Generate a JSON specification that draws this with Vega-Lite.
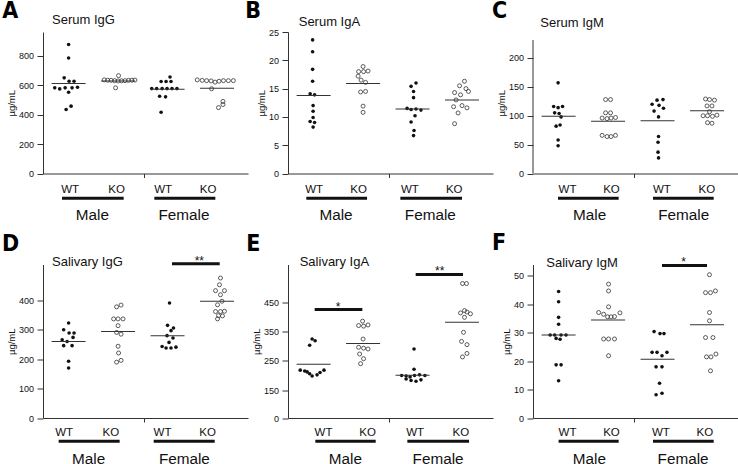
{
"$schema": "https://vega.github.io/schema/vega-lite/v6.json",
"padding": {"left": 2, "top": 0, "right": 0, "bottom": 0},
"config": {
 "view": {"stroke": null},
 "font": "Liberation Sans",
 "axis": {"grid": false, "labelFlush": false, "labelOverlap": false, "domainColor": "#333", "tickColor": "#333", "labelColor": "#111", "titleColor": "#111", "titleFontWeight": "normal", "labelFont": "Liberation Sans", "titleFont": "Liberation Sans"},
 "axisY": {"tickSize": 6, "labelPadding": 3.5, "labelFontSize": 9, "titleFontSize": 9.5, "titlePadding": 2, "labelOverlap": false},
 "axisX": {"tickSize": 4, "labelFontSize": 11.5, "labelPadding": 5.5, "labelOverlap": false}
},
"datasets": {
 "pts": [
  {"p":"A","g":"MW","v":875,"j":0},{"p":"A","g":"MW","v":784,"j":0},{"p":"A","g":"MW","v":649,"j":-0.09},{"p":"A","g":"MW","v":626,"j":0.01},{"p":"A","g":"MW","v":626,"j":0.11},{"p":"A","g":"MW","v":581,"j":-0.28},{"p":"A","g":"MW","v":574,"j":-0.18},{"p":"A","g":"MW","v":581,"j":-0.07},{"p":"A","g":"MW","v":581,"j":0.07},{"p":"A","g":"MW","v":585,"j":0.18},{"p":"A","g":"MW","v":551,"j":0},{"p":"A","g":"MW","v":457,"j":0.05},{"p":"A","g":"MW","v":434,"j":-0.05},
  {"p":"A","g":"MK","v":664,"j":0.01},{"p":"A","g":"MK","v":635,"j":-0.28},{"p":"A","g":"MK","v":633,"j":-0.21},{"p":"A","g":"MK","v":632,"j":-0.14},{"p":"A","g":"MK","v":630,"j":-0.07},{"p":"A","g":"MK","v":628,"j":0},{"p":"A","g":"MK","v":629,"j":0.07},{"p":"A","g":"MK","v":630,"j":0.14},{"p":"A","g":"MK","v":632,"j":0.21},{"p":"A","g":"MK","v":633,"j":0.28},{"p":"A","g":"MK","v":634,"j":0.34},{"p":"A","g":"MK","v":581,"j":-0.05},
  {"p":"A","g":"FW","v":655,"j":0.05},{"p":"A","g":"FW","v":624,"j":-0.13},{"p":"A","g":"FW","v":624,"j":-0.03},{"p":"A","g":"FW","v":624,"j":0.07},{"p":"A","g":"FW","v":576,"j":-0.32},{"p":"A","g":"FW","v":576,"j":-0.22},{"p":"A","g":"FW","v":576,"j":-0.11},{"p":"A","g":"FW","v":576,"j":-0.01},{"p":"A","g":"FW","v":576,"j":0.09},{"p":"A","g":"FW","v":576,"j":0.19},{"p":"A","g":"FW","v":524,"j":-0.16},{"p":"A","g":"FW","v":520,"j":-0.04},{"p":"A","g":"FW","v":416,"j":-0.13},
  {"p":"A","g":"FK","v":635,"j":-0.4},{"p":"A","g":"FK","v":632,"j":-0.3},{"p":"A","g":"FK","v":630,"j":-0.21},{"p":"A","g":"FK","v":628,"j":-0.12},{"p":"A","g":"FK","v":620,"j":-0.04},{"p":"A","g":"FK","v":626,"j":0.04},{"p":"A","g":"FK","v":630,"j":0.13},{"p":"A","g":"FK","v":630,"j":0.23},{"p":"A","g":"FK","v":630,"j":0.33},{"p":"A","g":"FK","v":575,"j":-0.11},{"p":"A","g":"FK","v":489,"j":0.12},{"p":"A","g":"FK","v":468,"j":0.12},{"p":"A","g":"FK","v":447,"j":0.03},

  {"p":"B","g":"MW","v":23.6,"j":-0.02},{"p":"B","g":"MW","v":21.5,"j":-0.02},{"p":"B","g":"MW","v":18.4,"j":-0.02},{"p":"B","g":"MW","v":16.3,"j":-0.02},{"p":"B","g":"MW","v":14.1,"j":-0.07},{"p":"B","g":"MW","v":13.9,"j":0.02},{"p":"B","g":"MW","v":12.0,"j":-0.01},{"p":"B","g":"MW","v":11.0,"j":-0.01},{"p":"B","g":"MW","v":9.9,"j":-0.01},{"p":"B","g":"MW","v":9.2,"j":-0.07},{"p":"B","g":"MW","v":9.0,"j":0.02},{"p":"B","g":"MW","v":8.2,"j":-0.01},
  {"p":"B","g":"MK","v":18.9,"j":0},{"p":"B","g":"MK","v":18.0,"j":-0.09},{"p":"B","g":"MK","v":18.0,"j":0.01},{"p":"B","g":"MK","v":18.1,"j":0.1},{"p":"B","g":"MK","v":17.2,"j":-0.1},{"p":"B","g":"MK","v":16.5,"j":-0.04},{"p":"B","g":"MK","v":16.1,"j":0.05},{"p":"B","g":"MK","v":14.4,"j":-0.05},{"p":"B","g":"MK","v":14.5,"j":0.05},{"p":"B","g":"MK","v":11.9,"j":0},{"p":"B","g":"MK","v":10.8,"j":0},
  {"p":"B","g":"FW","v":16.0,"j":0.07},{"p":"B","g":"FW","v":15.4,"j":-0.03},{"p":"B","g":"FW","v":14.5,"j":0.02},{"p":"B","g":"FW","v":13.4,"j":0.02},{"p":"B","g":"FW","v":11.5,"j":-0.11},{"p":"B","g":"FW","v":11.3,"j":-0.03},{"p":"B","g":"FW","v":11.4,"j":0.07},{"p":"B","g":"FW","v":11.2,"j":0.17},{"p":"B","g":"FW","v":10.2,"j":0.05},{"p":"B","g":"FW","v":9.1,"j":-0.03},{"p":"B","g":"FW","v":7.6,"j":0.03},{"p":"B","g":"FW","v":6.7,"j":0.02},
  {"p":"B","g":"FK","v":16.3,"j":0.05},{"p":"B","g":"FK","v":15.5,"j":-0.05},{"p":"B","g":"FK","v":15.0,"j":0.08},{"p":"B","g":"FK","v":14.5,"j":0.13},{"p":"B","g":"FK","v":14.3,"j":-0.15},{"p":"B","g":"FK","v":13.9,"j":-0.03},{"p":"B","g":"FK","v":13.0,"j":-0.12},{"p":"B","g":"FK","v":12.0,"j":0},{"p":"B","g":"FK","v":11.8,"j":-0.17},{"p":"B","g":"FK","v":11.6,"j":0.1},{"p":"B","g":"FK","v":10.7,"j":-0.08},{"p":"B","g":"FK","v":8.8,"j":-0.15},

  {"p":"C","g":"MW","v":157,"j":-0.01},{"p":"C","g":"MW","v":116,"j":-0.1},{"p":"C","g":"MW","v":116,"j":0.08},{"p":"C","g":"MW","v":114,"j":-0.01},{"p":"C","g":"MW","v":105,"j":-0.08},{"p":"C","g":"MW","v":104,"j":0.01},{"p":"C","g":"MW","v":98,"j":0.05},{"p":"C","g":"MW","v":84,"j":0.03},{"p":"C","g":"MW","v":82,"j":-0.05},{"p":"C","g":"MW","v":58,"j":-0.01},{"p":"C","g":"MW","v":48,"j":-0.01},
  {"p":"C","g":"MK","v":128,"j":-0.05},{"p":"C","g":"MK","v":128,"j":0.05},{"p":"C","g":"MK","v":105,"j":-0.05},{"p":"C","g":"MK","v":105,"j":0.05},{"p":"C","g":"MK","v":96,"j":-0.12},{"p":"C","g":"MK","v":95,"j":-0.02},{"p":"C","g":"MK","v":96,"j":0.06},{"p":"C","g":"MK","v":97,"j":0.15},{"p":"C","g":"MK","v":66,"j":-0.12},{"p":"C","g":"MK","v":64,"j":-0.02},{"p":"C","g":"MK","v":64,"j":0.06},{"p":"C","g":"MK","v":66,"j":0.15},
  {"p":"C","g":"FW","v":127,"j":-0.01},{"p":"C","g":"FW","v":128,"j":0.11},{"p":"C","g":"FW","v":120,"j":-0.11},{"p":"C","g":"FW","v":118,"j":0.03},{"p":"C","g":"FW","v":113,"j":0.12},{"p":"C","g":"FW","v":108,"j":-0.07},{"p":"C","g":"FW","v":98,"j":0.02},{"p":"C","g":"FW","v":64,"j":0.02},{"p":"C","g":"FW","v":54,"j":0.01},{"p":"C","g":"FW","v":37,"j":0.01},{"p":"C","g":"FW","v":27,"j":0.02},
  {"p":"C","g":"FK","v":129,"j":-0.03},{"p":"C","g":"FK","v":128,"j":0.05},{"p":"C","g":"FK","v":127,"j":0.15},{"p":"C","g":"FK","v":117,"j":0},{"p":"C","g":"FK","v":117,"j":0.1},{"p":"C","g":"FK","v":107,"j":0.05},{"p":"C","g":"FK","v":100,"j":-0.08},{"p":"C","g":"FK","v":100,"j":0.01},{"p":"C","g":"FK","v":99,"j":0.11},{"p":"C","g":"FK","v":101,"j":0.2},{"p":"C","g":"FK","v":88,"j":0.01},{"p":"C","g":"FK","v":87,"j":0.1},

  {"p":"D","g":"MW","v":323,"j":0},{"p":"D","g":"MW","v":300,"j":-0.1},{"p":"D","g":"MW","v":289,"j":0.01},{"p":"D","g":"MW","v":289,"j":0.11},{"p":"D","g":"MW","v":274,"j":0.09},{"p":"D","g":"MW","v":266,"j":-0.13},{"p":"D","g":"MW","v":260,"j":-0.03},{"p":"D","g":"MW","v":246,"j":-0.1},{"p":"D","g":"MW","v":246,"j":0.07},{"p":"D","g":"MW","v":193,"j":0},{"p":"D","g":"MW","v":170,"j":0},
  {"p":"D","g":"MK","v":378,"j":-0.03},{"p":"D","g":"MK","v":384,"j":0.06},{"p":"D","g":"MK","v":337,"j":-0.09},{"p":"D","g":"MK","v":337,"j":0},{"p":"D","g":"MK","v":337,"j":0.1},{"p":"D","g":"MK","v":314,"j":0},{"p":"D","g":"MK","v":291,"j":-0.03},{"p":"D","g":"MK","v":285,"j":0.06},{"p":"D","g":"MK","v":244,"j":0},{"p":"D","g":"MK","v":221,"j":0.01},{"p":"D","g":"MK","v":190,"j":-0.03},{"p":"D","g":"MK","v":196,"j":0.06},
  {"p":"D","g":"FW","v":391,"j":0.04},{"p":"D","g":"FW","v":315,"j":0},{"p":"D","g":"FW","v":306,"j":0.12},{"p":"D","g":"FW","v":297,"j":0.07},{"p":"D","g":"FW","v":280,"j":-0.01},{"p":"D","g":"FW","v":272,"j":0.11},{"p":"D","g":"FW","v":257,"j":0.03},{"p":"D","g":"FW","v":243,"j":-0.11},{"p":"D","g":"FW","v":238,"j":-0.03},{"p":"D","g":"FW","v":238,"j":0.07},{"p":"D","g":"FW","v":241,"j":0.17},
  {"p":"D","g":"FK","v":476,"j":0.07},{"p":"D","g":"FK","v":453,"j":0.05},{"p":"D","g":"FK","v":433,"j":-0.03},{"p":"D","g":"FK","v":433,"j":0.15},{"p":"D","g":"FK","v":419,"j":0.07},{"p":"D","g":"FK","v":397,"j":0.1},{"p":"D","g":"FK","v":385,"j":0.01},{"p":"D","g":"FK","v":362,"j":-0.03},{"p":"D","g":"FK","v":362,"j":0.07},{"p":"D","g":"FK","v":363,"j":0.15},{"p":"D","g":"FK","v":348,"j":0.03},{"p":"D","g":"FK","v":347,"j":0.11},{"p":"D","g":"FK","v":337,"j":0.01},

  {"p":"E","g":"MW","v":324,"j":-0.03},{"p":"E","g":"MW","v":318,"j":0.03},{"p":"E","g":"MW","v":303,"j":-0.08},{"p":"E","g":"MW","v":218,"j":-0.27},{"p":"E","g":"MW","v":215,"j":-0.18},{"p":"E","g":"MW","v":212,"j":-0.13},{"p":"E","g":"MW","v":206,"j":-0.08},{"p":"E","g":"MW","v":198,"j":-0.03},{"p":"E","g":"MW","v":202,"j":0.07},{"p":"E","g":"MW","v":210,"j":0.13},{"p":"E","g":"MW","v":218,"j":0.21},
  {"p":"E","g":"MK","v":385,"j":-0.01},{"p":"E","g":"MK","v":370,"j":-0.09},{"p":"E","g":"MK","v":368,"j":0.01},{"p":"E","g":"MK","v":372,"j":0.1},{"p":"E","g":"MK","v":324,"j":0},{"p":"E","g":"MK","v":296,"j":-0.09},{"p":"E","g":"MK","v":293,"j":0.01},{"p":"E","g":"MK","v":290,"j":0.1},{"p":"E","g":"MK","v":273,"j":-0.07},{"p":"E","g":"MK","v":257,"j":0.01},{"p":"E","g":"MK","v":240,"j":-0.05},
  {"p":"E","g":"FW","v":290,"j":0.03},{"p":"E","g":"FW","v":221,"j":0.03},{"p":"E","g":"FW","v":200,"j":-0.22},{"p":"E","g":"FW","v":198,"j":-0.13},{"p":"E","g":"FW","v":195,"j":-0.05},{"p":"E","g":"FW","v":200,"j":0.04},{"p":"E","g":"FW","v":202,"j":0.14},{"p":"E","g":"FW","v":200,"j":0.25},{"p":"E","g":"FW","v":188,"j":-0.13},{"p":"E","g":"FW","v":183,"j":-0.03},{"p":"E","g":"FW","v":180,"j":0.07},{"p":"E","g":"FW","v":185,"j":0.17},
  {"p":"E","g":"FK","v":513,"j":0.01},{"p":"E","g":"FK","v":513,"j":0.09},{"p":"E","g":"FK","v":421,"j":0.05},{"p":"E","g":"FK","v":413,"j":-0.03},{"p":"E","g":"FK","v":416,"j":0.1},{"p":"E","g":"FK","v":410,"j":0.17},{"p":"E","g":"FK","v":398,"j":0.05},{"p":"E","g":"FK","v":347,"j":0.03},{"p":"E","g":"FK","v":316,"j":-0.01},{"p":"E","g":"FK","v":305,"j":0.1},{"p":"E","g":"FK","v":275,"j":0.1},{"p":"E","g":"FK","v":263,"j":0.01},

  {"p":"F","g":"MW","v":44.5,"j":0},{"p":"F","g":"MW","v":40.9,"j":0},{"p":"F","g":"MW","v":35.4,"j":0},{"p":"F","g":"MW","v":33.0,"j":0},{"p":"F","g":"MW","v":29.2,"j":-0.17},{"p":"F","g":"MW","v":29.2,"j":-0.08},{"p":"F","g":"MW","v":29.2,"j":0.05},{"p":"F","g":"MW","v":29.2,"j":0.15},{"p":"F","g":"MW","v":28.0,"j":-0.05},{"p":"F","g":"MW","v":27.7,"j":0.03},{"p":"F","g":"MW","v":18.7,"j":-0.05},{"p":"F","g":"MW","v":18.7,"j":0.05},{"p":"F","g":"MW","v":13.1,"j":0},
  {"p":"F","g":"MK","v":47.1,"j":0.01},{"p":"F","g":"MK","v":44.7,"j":0.01},{"p":"F","g":"MK","v":39.1,"j":0.01},{"p":"F","g":"MK","v":37.1,"j":-0.19},{"p":"F","g":"MK","v":36.5,"j":-0.09},{"p":"F","g":"MK","v":35.6,"j":-0.01},{"p":"F","g":"MK","v":35.6,"j":0.06},{"p":"F","g":"MK","v":35.7,"j":0.13},{"p":"F","g":"MK","v":37.0,"j":0.24},{"p":"F","g":"MK","v":27.8,"j":-0.09},{"p":"F","g":"MK","v":27.8,"j":0.01},{"p":"F","g":"MK","v":27.8,"j":0.13},{"p":"F","g":"MK","v":21.9,"j":0.01},
  {"p":"F","g":"FW","v":30.4,"j":-0.07},{"p":"F","g":"FW","v":29.7,"j":0.05},{"p":"F","g":"FW","v":29.7,"j":0.13},{"p":"F","g":"FW","v":23.1,"j":-0.11},{"p":"F","g":"FW","v":23.1,"j":-0.01},{"p":"F","g":"FW","v":23.1,"j":0.19},{"p":"F","g":"FW","v":21.9,"j":0.09},{"p":"F","g":"FW","v":18.0,"j":-0.03},{"p":"F","g":"FW","v":18.0,"j":0.09},{"p":"F","g":"FW","v":12.2,"j":0.04},{"p":"F","g":"FW","v":8.2,"j":-0.03},{"p":"F","g":"FW","v":8.7,"j":0.09},
  {"p":"F","g":"FK","v":50.4,"j":0.05},{"p":"F","g":"FK","v":44.1,"j":-0.03},{"p":"F","g":"FK","v":44.1,"j":0.07},{"p":"F","g":"FK","v":44.7,"j":0.17},{"p":"F","g":"FK","v":37.1,"j":0.05},{"p":"F","g":"FK","v":34.2,"j":0.05},{"p":"F","g":"FK","v":28.3,"j":-0.03},{"p":"F","g":"FK","v":28.3,"j":0.12},{"p":"F","g":"FK","v":21.5,"j":-0.01},{"p":"F","g":"FK","v":21.5,"j":0.08},{"p":"F","g":"FK","v":22.5,"j":0.18},{"p":"F","g":"FK","v":16.6,"j":0.07}
 ],
 "means": [
  {"p":"A","g":"MW","v":610},{"p":"A","g":"MK","v":628},{"p":"A","g":"FW","v":572},{"p":"A","g":"FK","v":578},
  {"p":"B","g":"MW","v":13.8},{"p":"B","g":"MK","v":15.9},{"p":"B","g":"FW","v":11.4},{"p":"B","g":"FK","v":13.0},
  {"p":"C","g":"MW","v":99},{"p":"C","g":"MK","v":90.5},{"p":"C","g":"FW","v":91.5},{"p":"C","g":"FK","v":108.5},
  {"p":"D","g":"MW","v":260},{"p":"D","g":"MK","v":294},{"p":"D","g":"FW","v":280},{"p":"D","g":"FK","v":397},
  {"p":"E","g":"MW","v":238},{"p":"E","g":"MK","v":309},{"p":"E","g":"FW","v":201},{"p":"E","g":"FK","v":381},
  {"p":"F","g":"MW","v":29.2},{"p":"F","g":"MK","v":34.5},{"p":"F","g":"FW","v":20.7},{"p":"F","g":"FK","v":32.8}
 ]
},
"columns": 3,
"spacing": {"row": 90.5, "column": 40},
"bounds": "flush",
"concat": [
 {
  "width": 205, "height": 141.5,
  "resolve": {"scale": {"x": "independent"}, "axis": {"y": "independent"}},
  "layer": [
   {"data": {"name": "pts"},
    "layer": [
     {"transform": [{"filter": "datum.p=='A' && indexof(datum.g,'W')>=0"}],
      "mark": {"type": "circle", "size": 13, "color": "#111", "opacity": 1},
      "encoding": {"x": {"field": "g", "type": "nominal", "scale": {"type": "band", "domain": ["MW","MK","FW","FK"], "paddingInner": 0, "paddingOuter": 0.0718, "align": 0.122}, "axis": null},
       "xOffset": {"field": "j", "type": "quantitative", "scale": {"domain": [-0.5, 0.5], "range": [0, 49.47]}},
       "y": {"field": "v", "type": "quantitative", "scale": {"domain": [0, 960], "nice": false, "zero": false}, "axis": {"title": "µg/mL", "values": [0,200,400,600,800], "labelOverlap": false}}}},
     {"transform": [{"filter": "datum.p=='A' && indexof(datum.g,'K')>=0"}],
      "mark": {"type": "point", "shape": "circle", "size": 16, "filled": false, "stroke": "#333", "strokeWidth": 0.8, "opacity": 1},
      "encoding": {"x": {"field": "g", "type": "nominal"}, "xOffset": {"field": "j", "type": "quantitative"}, "y": {"field": "v", "type": "quantitative", "axis": {"title": "µg/mL", "values": [0,200,400,600,800], "labelOverlap": false}}}},
     {"data": {"name": "means"}, "transform": [{"filter": "datum.p=='A'"}],
      "mark": {"type": "tick", "orient": "horizontal", "size": 34, "thickness": 1, "color": "#333", "opacity": 1},
      "encoding": {"x": {"field": "g", "type": "nominal"}, "y": {"field": "v", "type": "quantitative", "axis": {"title": "µg/mL", "values": [0,200,400,600,800], "labelOverlap": false}}}}
    ]},
   {"data": {"values": [{}]},
    "layer": [
     {"mark": {"type": "rule", "strokeWidth": 3, "color": "#111"},
      "encoding": {"x": {"datum": 0.867, "type": "quantitative", "scale": {"domain": [0.4825, 4.626], "nice": false, "zero": false},
        "axis": {"orient": "bottom", "title": null, "labelOverlap": false, "values": [1.02, 1.96, 2.53, 2.9, 3.81], "labelExpr": "datum.value < 1.5 ? 'WT' : datum.value < 2.4 ? 'KO' : datum.value < 2.6 ? '' : datum.value < 3.5 ? 'WT' : 'KO'", "tickOpacity": {"condition": {"test": "datum.value > 2.5 && datum.value < 2.56", "value": 1}, "value": 0}}},
       "x2": {"datum": 2.113}, "y": {"datum": -168.3, "type": "quantitative", "axis": null}}},
     {"mark": {"type": "rule", "strokeWidth": 3, "color": "#111"},
      "encoding": {"x": {"datum": 2.733, "type": "quantitative"}, "x2": {"datum": 3.966}, "y": {"datum": -168.3, "type": "quantitative"}}},
     {"mark": {"type": "text", "fontSize": 15.3, "align": "center", "baseline": "alphabetic", "color": "#111"},
      "encoding": {"x": {"datum": 1.48, "type": "quantitative"}, "y": {"datum": -315.5, "type": "quantitative"}, "text": {"value": "Male"}}},
     {"mark": {"type": "text", "fontSize": 15.3, "align": "center", "baseline": "alphabetic", "color": "#111"},
      "encoding": {"x": {"datum": 3.33, "type": "quantitative"}, "y": {"datum": -315.5, "type": "quantitative"}, "text": {"value": "Female"}}},
     {"mark": {"type": "text", "fontSize": 23, "fontWeight": "bold", "font": "Liberation Sans Narrow, Arial Narrow, DejaVu Sans Condensed, Liberation Sans", "align": "left", "baseline": "alphabetic", "color": "#000"},
      "encoding": {"x": {"datum": -0.34, "type": "quantitative"}, "y": {"datum": 1052.9, "type": "quantitative"}, "text": {"value": "A"}}},
     {"mark": {"type": "text", "fontSize": 13, "align": "left", "baseline": "alphabetic", "color": "#111"},
      "encoding": {"x": {"datum": 0.664, "type": "quantitative"}, "y": {"datum": 1010.9, "type": "quantitative"}, "text": {"value": "Serum IgG"}}}
    ]}
  ]
 },
 {
  "width": 205, "height": 141.5,
  "resolve": {"scale": {"x": "independent"}, "axis": {"y": "independent"}},
  "layer": [
   {"data": {"name": "pts"},
    "layer": [
     {"transform": [{"filter": "datum.p=='B' && indexof(datum.g,'W')>=0"}],
      "mark": {"type": "circle", "size": 13, "color": "#111", "opacity": 1},
      "encoding": {"x": {"field": "g", "type": "nominal", "scale": {"type": "band", "domain": ["MW","MK","FW","FK"], "paddingInner": 0, "paddingOuter": 0.0718, "align": 0.122}, "axis": null},
       "xOffset": {"field": "j", "type": "quantitative", "scale": {"domain": [-0.5, 0.5], "range": [0, 49.47]}},
       "y": {"field": "v", "type": "quantitative", "scale": {"domain": [0, 25], "nice": false, "zero": false}, "axis": {"title": "µg/mL", "values": [0,5,10,15,20,25], "labelOverlap": false}}}},
     {"transform": [{"filter": "datum.p=='B' && indexof(datum.g,'K')>=0"}],
      "mark": {"type": "point", "shape": "circle", "size": 16, "filled": false, "stroke": "#333", "strokeWidth": 0.8, "opacity": 1},
      "encoding": {"x": {"field": "g", "type": "nominal"}, "xOffset": {"field": "j", "type": "quantitative"}, "y": {"field": "v", "type": "quantitative", "axis": {"title": "µg/mL", "values": [0,5,10,15,20,25], "labelOverlap": false}}}},
     {"data": {"name": "means"}, "transform": [{"filter": "datum.p=='B'"}],
      "mark": {"type": "tick", "orient": "horizontal", "size": 34, "thickness": 1, "color": "#333", "opacity": 1},
      "encoding": {"x": {"field": "g", "type": "nominal"}, "y": {"field": "v", "type": "quantitative", "axis": {"title": "µg/mL", "values": [0,5,10,15,20,25], "labelOverlap": false}}}}
    ]},
   {"data": {"values": [{}]},
    "layer": [
     {"mark": {"type": "rule", "strokeWidth": 3, "color": "#111"},
      "encoding": {"x": {"datum": 0.853, "type": "quantitative", "scale": {"domain": [0.4825, 4.626], "nice": false, "zero": false},
        "axis": {"orient": "bottom", "title": null, "labelOverlap": false, "values": [1.0, 1.898, 2.53, 2.935, 3.832], "labelExpr": "datum.value < 1.5 ? 'WT' : datum.value < 2.4 ? 'KO' : datum.value < 2.6 ? '' : datum.value < 3.5 ? 'WT' : 'KO'", "tickOpacity": {"condition": {"test": "datum.value > 2.5 && datum.value < 2.56", "value": 1}, "value": 0}}},
       "x2": {"datum": 2.08}, "y": {"datum": -4.38, "type": "quantitative", "axis": null}}},
     {"mark": {"type": "rule", "strokeWidth": 3, "color": "#111"},
      "encoding": {"x": {"datum": 2.753, "type": "quantitative"}, "x2": {"datum": 4.0}, "y": {"datum": -4.38, "type": "quantitative"}}},
     {"mark": {"type": "text", "fontSize": 15.3, "align": "center", "baseline": "alphabetic", "color": "#111"},
      "encoding": {"x": {"datum": 1.453, "type": "quantitative"}, "y": {"datum": -8.22, "type": "quantitative"}, "text": {"value": "Male"}}},
     {"mark": {"type": "text", "fontSize": 15.3, "align": "center", "baseline": "alphabetic", "color": "#111"},
      "encoding": {"x": {"datum": 3.36, "type": "quantitative"}, "y": {"datum": -8.22, "type": "quantitative"}, "text": {"value": "Female"}}},
     {"mark": {"type": "text", "fontSize": 23, "fontWeight": "bold", "font": "Liberation Sans Narrow, Arial Narrow, DejaVu Sans Condensed, Liberation Sans", "align": "left", "baseline": "alphabetic", "color": "#000"},
      "encoding": {"x": {"datum": -0.38, "type": "quantitative"}, "y": {"datum": 27.42, "type": "quantitative"}, "text": {"value": "B"}}},
     {"mark": {"type": "text", "fontSize": 13, "align": "left", "baseline": "alphabetic", "color": "#111"},
      "encoding": {"x": {"datum": 0.699, "type": "quantitative"}, "y": {"datum": 26.11, "type": "quantitative"}, "text": {"value": "Serum IgA"}}}
    ]}
  ]
 },
 {
  "width": 205, "height": 141.5,
  "resolve": {"scale": {"x": "independent"}, "axis": {"y": "independent"}},
  "layer": [
   {"data": {"name": "pts"},
    "layer": [
     {"transform": [{"filter": "datum.p=='C' && indexof(datum.g,'W')>=0"}],
      "mark": {"type": "circle", "size": 13, "color": "#111", "opacity": 1},
      "encoding": {"x": {"field": "g", "type": "nominal", "scale": {"type": "band", "domain": ["MW","MK","FW","FK"], "paddingInner": 0, "paddingOuter": 0.0718, "align": 0.122}, "axis": null},
       "xOffset": {"field": "j", "type": "quantitative", "scale": {"domain": [-0.5, 0.5], "range": [0, 49.47]}},
       "y": {"field": "v", "type": "quantitative", "scale": {"domain": [0, 245], "nice": false, "zero": false}, "axis": {"title": "µg/mL", "values": [0,50,100,150,200], "domain": false, "labelOverlap": false}}}},
     {"transform": [{"filter": "datum.p=='C' && indexof(datum.g,'K')>=0"}],
      "mark": {"type": "point", "shape": "circle", "size": 16, "filled": false, "stroke": "#333", "strokeWidth": 0.8, "opacity": 1},
      "encoding": {"x": {"field": "g", "type": "nominal"}, "xOffset": {"field": "j", "type": "quantitative"}, "y": {"field": "v", "type": "quantitative", "axis": {"title": "µg/mL", "values": [0,50,100,150,200], "domain": false, "labelOverlap": false}}}},
     {"data": {"name": "means"}, "transform": [{"filter": "datum.p=='C'"}],
      "mark": {"type": "tick", "orient": "horizontal", "size": 34, "thickness": 1, "color": "#333", "opacity": 1},
      "encoding": {"x": {"field": "g", "type": "nominal"}, "y": {"field": "v", "type": "quantitative", "axis": {"title": "µg/mL", "values": [0,50,100,150,200], "domain": false, "labelOverlap": false}}}}
    ]},
   {"data": {"values": [{}]},
    "layer": [
     {"mark": {"type": "rule", "strokeWidth": 3, "color": "#111"},
      "encoding": {"x": {"datum": 0.988, "type": "quantitative", "scale": {"domain": [0.4825, 4.626], "nice": false, "zero": false},
        "axis": {"orient": "bottom", "title": null, "labelOverlap": false, "values": [1.17, 2.059, 2.53, 3.077, 3.987], "labelExpr": "datum.value < 1.5 ? 'WT' : datum.value < 2.4 ? 'KO' : datum.value < 2.6 ? '' : datum.value < 3.5 ? 'WT' : 'KO'", "tickOpacity": {"condition": {"test": "datum.value > 2.5 && datum.value < 2.56", "value": 1}, "value": 0}}},
       "x2": {"datum": 2.214}, "y": {"datum": -42.94, "type": "quantitative", "axis": null}}},
     {"mark": {"type": "rule", "strokeWidth": 3, "color": "#111"},
      "encoding": {"x": {"datum": 2.908, "type": "quantitative"}, "x2": {"datum": 4.135}, "y": {"datum": -42.94, "type": "quantitative"}}},
     {"mark": {"type": "rule", "strokeWidth": 1, "color": "#333"},
      "encoding": {"x": {"datum": 0.4825, "type": "quantitative"}, "y": {"datum": 0, "type": "quantitative"}, "y2": {"datum": 231}}},
     {"mark": {"type": "text", "fontSize": 15.3, "align": "center", "baseline": "alphabetic", "color": "#111"},
      "encoding": {"x": {"datum": 1.628, "type": "quantitative"}, "y": {"datum": -80.51, "type": "quantitative"}, "text": {"value": "Male"}}},
     {"mark": {"type": "text", "fontSize": 15.3, "align": "center", "baseline": "alphabetic", "color": "#111"},
      "encoding": {"x": {"datum": 3.528, "type": "quantitative"}, "y": {"datum": -80.51, "type": "quantitative"}, "text": {"value": "Female"}}},
     {"mark": {"type": "text", "fontSize": 23, "fontWeight": "bold", "font": "Liberation Sans Narrow, Arial Narrow, DejaVu Sans Condensed, Liberation Sans", "align": "left", "baseline": "alphabetic", "color": "#000"},
      "encoding": {"x": {"datum": -0.345, "type": "quantitative"}, "y": {"datum": 268.72, "type": "quantitative"}, "text": {"value": "C"}}},
     {"mark": {"type": "text", "fontSize": 13, "align": "left", "baseline": "alphabetic", "color": "#111"},
      "encoding": {"x": {"datum": 0.63, "type": "quantitative"}, "y": {"datum": 253.14, "type": "quantitative"}, "text": {"value": "Serum IgM"}}}
    ]}
  ]
 },
 {
  "width": 205, "height": 153.5,
  "resolve": {"scale": {"x": "independent"}, "axis": {"y": "independent"}},
  "layer": [
   {"data": {"name": "pts"},
    "layer": [
     {"transform": [{"filter": "datum.p=='D' && indexof(datum.g,'W')>=0"}],
      "mark": {"type": "circle", "size": 13, "color": "#111", "opacity": 1},
      "encoding": {"x": {"field": "g", "type": "nominal", "scale": {"type": "band", "domain": ["MW","MK","FW","FK"], "paddingInner": 0, "paddingOuter": 0.0718, "align": 0.122}, "axis": null},
       "xOffset": {"field": "j", "type": "quantitative", "scale": {"domain": [-0.5, 0.5], "range": [0, 49.47]}},
       "y": {"field": "v", "type": "quantitative", "scale": {"domain": [0, 522], "nice": false, "zero": false}, "axis": {"title": "µg/mL", "values": [0,100,200,300,400], "labelOverlap": false}}}},
     {"transform": [{"filter": "datum.p=='D' && indexof(datum.g,'K')>=0"}],
      "mark": {"type": "point", "shape": "circle", "size": 16, "filled": false, "stroke": "#333", "strokeWidth": 0.8, "opacity": 1},
      "encoding": {"x": {"field": "g", "type": "nominal"}, "xOffset": {"field": "j", "type": "quantitative"}, "y": {"field": "v", "type": "quantitative", "axis": {"title": "µg/mL", "values": [0,100,200,300,400], "labelOverlap": false}}}},
     {"data": {"name": "means"}, "transform": [{"filter": "datum.p=='D'"}],
      "mark": {"type": "tick", "orient": "horizontal", "size": 34, "thickness": 1, "color": "#333", "opacity": 1},
      "encoding": {"x": {"field": "g", "type": "nominal"}, "y": {"field": "v", "type": "quantitative", "axis": {"title": "µg/mL", "values": [0,100,200,300,400], "labelOverlap": false}}}}
    ]},
   {"data": {"values": [{}]},
    "layer": [
     {"mark": {"type": "rule", "strokeWidth": 3, "color": "#111"},
      "encoding": {"x": {"datum": 0.799, "type": "quantitative", "scale": {"domain": [0.4825, 4.626], "nice": false, "zero": false},
        "axis": {"orient": "bottom", "title": null, "labelOverlap": false, "labelPadding": 4.2, "values": [0.9, 1.844, 2.53, 2.888, 3.798], "labelExpr": "datum.value < 1.5 ? 'WT' : datum.value < 2.4 ? 'KO' : datum.value < 2.6 ? '' : datum.value < 3.5 ? 'WT' : 'KO'", "tickOpacity": {"condition": {"test": "datum.value > 2.5 && datum.value < 2.56", "value": 1}, "value": 0}}},
       "x2": {"datum": 2.032}, "y": {"datum": -78.9, "type": "quantitative", "axis": null}}},
     {"mark": {"type": "rule", "strokeWidth": 3, "color": "#111"},
      "encoding": {"x": {"datum": 2.72, "type": "quantitative"}, "x2": {"datum": 3.953}, "y": {"datum": -78.9, "type": "quantitative"}}},
     {"mark": {"type": "rule", "strokeWidth": 3, "color": "#111"},
      "encoding": {"x": {"datum": 3.09, "type": "quantitative"}, "x2": {"datum": 4.054}, "y": {"datum": 524.4, "type": "quantitative"}}},
     {"mark": {"type": "text", "fontSize": 12, "align": "center", "baseline": "alphabetic", "color": "#111"},
      "encoding": {"x": {"datum": 3.643, "type": "quantitative"}, "y": {"datum": 520, "type": "quantitative"}, "text": {"value": "**"}}},
     {"mark": {"type": "text", "fontSize": 15.3, "align": "center", "baseline": "alphabetic", "color": "#111"},
      "encoding": {"x": {"datum": 1.406, "type": "quantitative"}, "y": {"datum": -155.75, "type": "quantitative"}, "text": {"value": "Male"}}},
     {"mark": {"type": "text", "fontSize": 15.3, "align": "center", "baseline": "alphabetic", "color": "#111"},
      "encoding": {"x": {"datum": 3.34, "type": "quantitative"}, "y": {"datum": -155.75, "type": "quantitative"}, "text": {"value": "Female"}}},
     {"mark": {"type": "text", "fontSize": 23, "fontWeight": "bold", "font": "Liberation Sans Narrow, Arial Narrow, DejaVu Sans Condensed, Liberation Sans", "align": "left", "baseline": "alphabetic", "color": "#000"},
      "encoding": {"x": {"datum": -0.345, "type": "quantitative"}, "y": {"datum": 569.6, "type": "quantitative"}, "text": {"value": "D"}}},
     {"mark": {"type": "text", "fontSize": 13, "align": "left", "baseline": "alphabetic", "color": "#111"},
      "encoding": {"x": {"datum": 0.664, "type": "quantitative"}, "y": {"datum": 515.2, "type": "quantitative"}, "text": {"value": "Salivary IgG"}}}
    ]}
  ]
 },
 {
  "width": 205, "height": 153.5,
  "resolve": {"scale": {"x": "independent"}, "axis": {"y": "independent"}},
  "layer": [
   {"data": {"name": "pts"},
    "layer": [
     {"transform": [{"filter": "datum.p=='E' && indexof(datum.g,'W')>=0"}],
      "mark": {"type": "circle", "size": 13, "color": "#111", "opacity": 1},
      "encoding": {"x": {"field": "g", "type": "nominal", "scale": {"type": "band", "domain": ["MW","MK","FW","FK"], "paddingInner": 0, "paddingOuter": 0.0718, "align": 0.122}, "axis": null},
       "xOffset": {"field": "j", "type": "quantitative", "scale": {"domain": [-0.5, 0.5], "range": [0, 49.47]}},
       "y": {"field": "v", "type": "quantitative", "scale": {"domain": [55, 578], "nice": false, "zero": false}, "axis": {"title": "µg/mL", "values": [55,150,250,350,450], "labelExpr": "datum.value < 100 ? '0' : datum.label", "labelOverlap": false}}}},
     {"transform": [{"filter": "datum.p=='E' && indexof(datum.g,'K')>=0"}],
      "mark": {"type": "point", "shape": "circle", "size": 16, "filled": false, "stroke": "#333", "strokeWidth": 0.8, "opacity": 1},
      "encoding": {"x": {"field": "g", "type": "nominal"}, "xOffset": {"field": "j", "type": "quantitative"}, "y": {"field": "v", "type": "quantitative", "axis": {"title": "µg/mL", "values": [55,150,250,350,450], "labelExpr": "datum.value < 100 ? '0' : datum.label", "labelOverlap": false}}}},
     {"data": {"name": "means"}, "transform": [{"filter": "datum.p=='E'"}],
      "mark": {"type": "tick", "orient": "horizontal", "size": 34, "thickness": 1, "color": "#333", "opacity": 1},
      "encoding": {"x": {"field": "g", "type": "nominal"}, "y": {"field": "v", "type": "quantitative", "axis": {"title": "µg/mL", "values": [55,150,250,350,450], "labelExpr": "datum.value < 100 ? '0' : datum.label", "labelOverlap": false}}}}
    ]},
   {"data": {"values": [{}]},
    "layer": [
     {"mark": {"type": "rule", "strokeWidth": 3, "color": "#111"},
      "encoding": {"x": {"datum": 1.035, "type": "quantitative", "scale": {"domain": [0.4825, 4.626], "nice": false, "zero": false},
        "axis": {"orient": "bottom", "title": null, "labelOverlap": false, "labelPadding": 4.2, "values": [1.19, 2.08, 2.53, 3.043, 3.966], "labelExpr": "datum.value < 1.5 ? 'WT' : datum.value < 2.4 ? 'KO' : datum.value < 2.6 ? '' : datum.value < 3.5 ? 'WT' : 'KO'", "tickOpacity": {"condition": {"test": "datum.value > 2.5 && datum.value < 2.56", "value": 1}, "value": 0}}},
       "x2": {"datum": 2.255}, "y": {"datum": -24.05, "type": "quantitative", "axis": null}}},
     {"mark": {"type": "rule", "strokeWidth": 3, "color": "#111"},
      "encoding": {"x": {"datum": 2.895, "type": "quantitative"}, "x2": {"datum": 4.142}, "y": {"datum": -24.05, "type": "quantitative"}}},
     {"mark": {"type": "rule", "strokeWidth": 3, "color": "#111"},
      "encoding": {"x": {"datum": 1.022, "type": "quantitative"}, "x2": {"datum": 1.985}, "y": {"datum": 424.7, "type": "quantitative"}}},
     {"mark": {"type": "rule", "strokeWidth": 3, "color": "#111"},
      "encoding": {"x": {"datum": 3.063, "type": "quantitative"}, "x2": {"datum": 4.02}, "y": {"datum": 543.9, "type": "quantitative"}}},
     {"mark": {"type": "text", "fontSize": 12, "align": "center", "baseline": "alphabetic", "color": "#111"},
      "encoding": {"x": {"datum": 1.493, "type": "quantitative"}, "y": {"datum": 420.2, "type": "quantitative"}, "text": {"value": "*"}}},
     {"mark": {"type": "text", "fontSize": 12, "align": "center", "baseline": "alphabetic", "color": "#111"},
      "encoding": {"x": {"datum": 3.548, "type": "quantitative"}, "y": {"datum": 541.9, "type": "quantitative"}, "text": {"value": "**"}}},
     {"mark": {"type": "text", "fontSize": 15.3, "align": "center", "baseline": "alphabetic", "color": "#111"},
      "encoding": {"x": {"datum": 1.641, "type": "quantitative"}, "y": {"datum": -101.05, "type": "quantitative"}, "text": {"value": "Male"}}},
     {"mark": {"type": "text", "fontSize": 15.3, "align": "center", "baseline": "alphabetic", "color": "#111"},
      "encoding": {"x": {"datum": 3.515, "type": "quantitative"}, "y": {"datum": -101.05, "type": "quantitative"}, "text": {"value": "Female"}}},
     {"mark": {"type": "text", "fontSize": 23, "fontWeight": "bold", "font": "Liberation Sans Narrow, Arial Narrow, DejaVu Sans Condensed, Liberation Sans", "align": "left", "baseline": "alphabetic", "color": "#000"},
      "encoding": {"x": {"datum": -0.36, "type": "quantitative"}, "y": {"datum": 625.7, "type": "quantitative"}, "text": {"value": "E"}}},
     {"mark": {"type": "text", "fontSize": 13, "align": "left", "baseline": "alphabetic", "color": "#111"},
      "encoding": {"x": {"datum": 0.719, "type": "quantitative"}, "y": {"datum": 571.2, "type": "quantitative"}, "text": {"value": "Salivary IgA"}}}
    ]}
  ]
 },
 {
  "width": 205, "height": 153.5,
  "resolve": {"scale": {"x": "independent"}, "axis": {"y": "independent"}},
  "layer": [
   {"data": {"name": "pts"},
    "layer": [
     {"transform": [{"filter": "datum.p=='F' && indexof(datum.g,'W')>=0"}],
      "mark": {"type": "circle", "size": 13, "color": "#111", "opacity": 1},
      "encoding": {"x": {"field": "g", "type": "nominal", "scale": {"type": "band", "domain": ["MW","MK","FW","FK"], "paddingInner": 0, "paddingOuter": 0.0718, "align": 0.122}, "axis": null},
       "xOffset": {"field": "j", "type": "quantitative", "scale": {"domain": [-0.5, 0.5], "range": [0, 49.47]}},
       "y": {"field": "v", "type": "quantitative", "scale": {"domain": [0, 54], "nice": false, "zero": false}, "axis": {"title": "µg/mL", "values": [0,10,20,30,40,50], "labelOverlap": false}}}},
     {"transform": [{"filter": "datum.p=='F' && indexof(datum.g,'K')>=0"}],
      "mark": {"type": "point", "shape": "circle", "size": 16, "filled": false, "stroke": "#333", "strokeWidth": 0.8, "opacity": 1},
      "encoding": {"x": {"field": "g", "type": "nominal"}, "xOffset": {"field": "j", "type": "quantitative"}, "y": {"field": "v", "type": "quantitative", "axis": {"title": "µg/mL", "values": [0,10,20,30,40,50], "labelOverlap": false}}}},
     {"data": {"name": "means"}, "transform": [{"filter": "datum.p=='F'"}],
      "mark": {"type": "tick", "orient": "horizontal", "size": 34, "thickness": 1, "color": "#333", "opacity": 1},
      "encoding": {"x": {"field": "g", "type": "nominal"}, "y": {"field": "v", "type": "quantitative", "axis": {"title": "µg/mL", "values": [0,10,20,30,40,50], "labelOverlap": false}}}}
    ]},
   {"data": {"values": [{}]},
    "layer": [
     {"mark": {"type": "rule", "strokeWidth": 3, "color": "#111"},
      "encoding": {"x": {"datum": 1.0, "type": "quantitative", "scale": {"domain": [0.4825, 4.626], "nice": false, "zero": false},
        "axis": {"orient": "bottom", "title": null, "labelOverlap": false, "labelPadding": 4.2, "values": [1.17, 2.059, 2.53, 3.057, 3.946], "labelExpr": "datum.value < 1.5 ? 'WT' : datum.value < 2.4 ? 'KO' : datum.value < 2.6 ? '' : datum.value < 3.5 ? 'WT' : 'KO'", "tickOpacity": {"condition": {"test": "datum.value > 2.5 && datum.value < 2.56", "value": 1}, "value": 0}}},
       "x2": {"datum": 2.214}, "y": {"datum": -8.16, "type": "quantitative", "axis": null}}},
     {"mark": {"type": "rule", "strokeWidth": 3, "color": "#111"},
      "encoding": {"x": {"datum": 2.908, "type": "quantitative"}, "x2": {"datum": 4.135}, "y": {"datum": -8.16, "type": "quantitative"}}},
     {"mark": {"type": "rule", "strokeWidth": 3, "color": "#111"},
      "encoding": {"x": {"datum": 3.09, "type": "quantitative"}, "x2": {"datum": 4.0}, "y": {"datum": 53.65, "type": "quantitative"}}},
     {"mark": {"type": "text", "fontSize": 12, "align": "center", "baseline": "alphabetic", "color": "#111"},
      "encoding": {"x": {"datum": 3.528, "type": "quantitative"}, "y": {"datum": 53.44, "type": "quantitative"}, "text": {"value": "*"}}},
     {"mark": {"type": "text", "fontSize": 15.3, "align": "center", "baseline": "alphabetic", "color": "#111"},
      "encoding": {"x": {"datum": 1.621, "type": "quantitative"}, "y": {"datum": -16.11, "type": "quantitative"}, "text": {"value": "Male"}}},
     {"mark": {"type": "text", "fontSize": 15.3, "align": "center", "baseline": "alphabetic", "color": "#111"},
      "encoding": {"x": {"datum": 3.515, "type": "quantitative"}, "y": {"datum": -16.11, "type": "quantitative"}, "text": {"value": "Female"}}},
     {"mark": {"type": "text", "fontSize": 23, "fontWeight": "bold", "font": "Liberation Sans Narrow, Arial Narrow, DejaVu Sans Condensed, Liberation Sans", "align": "left", "baseline": "alphabetic", "color": "#000"},
      "encoding": {"x": {"datum": -0.345, "type": "quantitative"}, "y": {"datum": 58.93, "type": "quantitative"}, "text": {"value": "F"}}},
     {"mark": {"type": "text", "fontSize": 13, "align": "left", "baseline": "alphabetic", "color": "#111"},
      "encoding": {"x": {"datum": 0.751, "type": "quantitative"}, "y": {"datum": 53.05, "type": "quantitative"}, "text": {"value": "Salivary IgM"}}}
    ]}
  ]
 }
]
}
